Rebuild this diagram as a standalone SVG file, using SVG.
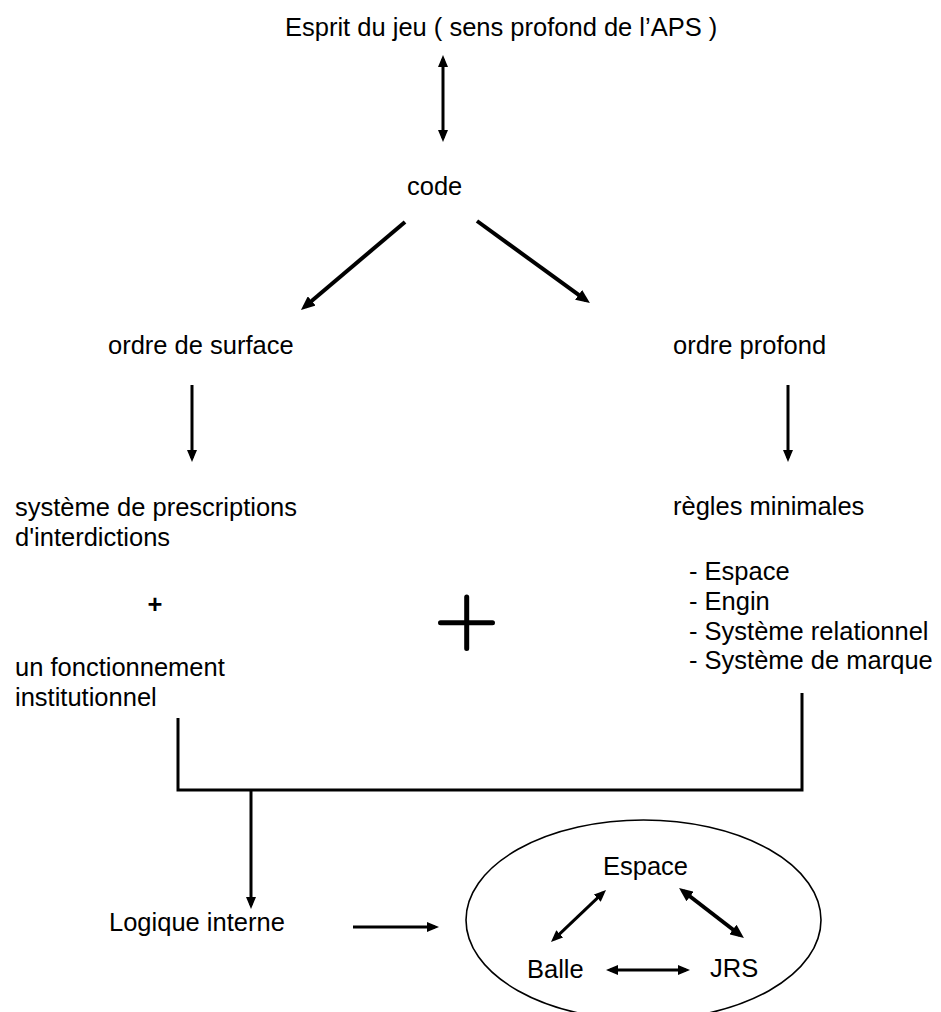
<svg xmlns="http://www.w3.org/2000/svg" width="941" height="1012" viewBox="0 0 941 1012">
<style>
text{font-family:"Liberation Sans",Arial,sans-serif;font-size:25.5px;fill:#000}
.c{stroke:#000;stroke-width:3;fill:none}
.t{stroke-width:4}
.b{font-weight:bold}
</style>
<defs>
<marker id="ah" viewBox="0 0 12 10" markerUnits="userSpaceOnUse" markerWidth="12" markerHeight="10" refX="8" refY="5" orient="auto-start-reverse">
<path d="M0,0 L12,5 L0,10 z" fill="#000"/>
</marker>
<marker id="ahl" viewBox="0 0 14 12" markerUnits="userSpaceOnUse" markerWidth="14" markerHeight="12" refX="9" refY="6" orient="auto-start-reverse">
<path d="M0,0 L14,6 L0,12 z" fill="#000"/>
</marker>
</defs>
<rect width="941" height="1012" fill="#fff"/>
<g id="n-esprit"><text x="285" y="36">Esprit du jeu ( sens profond de l’APS )</text></g>
<g id="n-code"><text x="407" y="195">code</text></g>
<g id="n-surface"><text x="108" y="354">ordre de surface</text></g>
<g id="n-profond"><text x="673" y="354">ordre profond</text></g>
<g id="n-prescriptions"><text x="15" y="516">système de prescriptions</text><text x="15" y="546">d'interdictions</text></g>
<g id="n-plus-small"><text class="b" x="155" y="613" text-anchor="middle">+</text></g>
<g id="n-fonctionnement"><text x="15" y="676">un fonctionnement</text><text x="15" y="706">institutionnel</text></g>
<g id="n-regles"><text x="673" y="515">règles minimales</text></g>
<g id="n-liste"><text x="689" y="580">- Espace</text><text x="689" y="610">- Engin</text><text x="689" y="640">- Système relationnel</text><text x="689" y="669">- Système de marque</text></g>
<g id="n-plus-big"><path d="M440.5,622.7 H492.5 M466.7,597 V648.5" stroke="#000" stroke-width="5" stroke-linecap="round" fill="none"/></g>
<g id="n-logique"><text x="109" y="931">Logique interne</text></g>
<g id="n-ellipse"><ellipse cx="643.5" cy="920" rx="177.5" ry="100" fill="none" stroke="#000" stroke-width="1.6"/>
<text x="603" y="875">Espace</text><text x="527" y="978">Balle</text><text x="710" y="977">JRS</text></g>
<g id="connectors">
<line class="c" x1="443" y1="59" x2="443" y2="138" marker-start="url(#ah)" marker-end="url(#ah)"/>
<line class="c t" x1="405" y1="222" x2="304.8" y2="306.7" marker-end="url(#ahl)"/>
<line class="c t" x1="477" y1="221" x2="585.9" y2="300.1" marker-end="url(#ahl)"/>
<line class="c" x1="192" y1="385" x2="192" y2="458" marker-end="url(#ah)"/>
<line class="c" x1="788" y1="385" x2="788" y2="458" marker-end="url(#ah)"/>
<polyline class="c" points="178,718 178,790 802,790 802,693"/>
<line class="c" x1="251" y1="790" x2="251" y2="905" marker-end="url(#ah)"/>
<line class="c" x1="353" y1="927" x2="435" y2="927" marker-end="url(#ah)"/>
<line class="c" x1="553.9" y1="939.3" x2="603.1" y2="892.7" marker-start="url(#ah)" marker-end="url(#ah)"/>
<line class="c t" x1="683" y1="891" x2="740" y2="935" marker-start="url(#ahl)" marker-end="url(#ahl)"/>
<line class="c" x1="610" y1="970" x2="686" y2="970" marker-start="url(#ah)" marker-end="url(#ah)"/>
</g>
</svg>
